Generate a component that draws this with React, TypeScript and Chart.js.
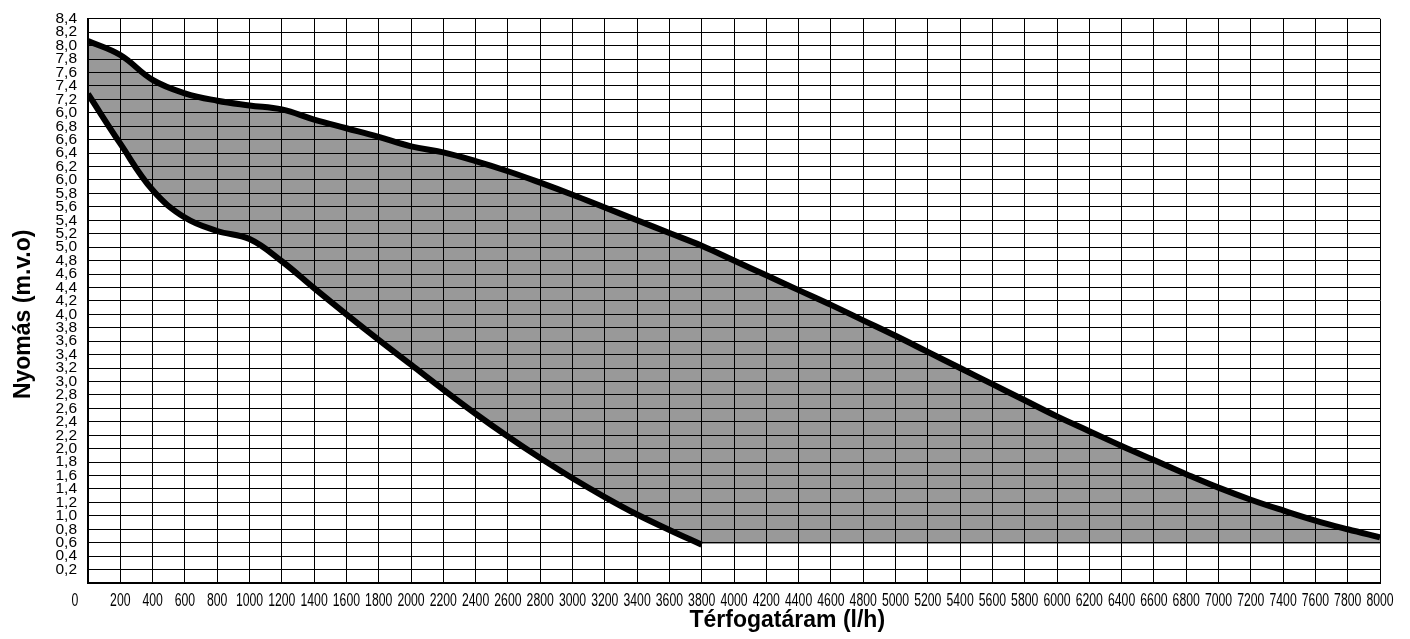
import React, { useEffect, useRef } from 'react';
import { Chart, registerables } from 'chart.js';

Chart.register(...registerables);

// Flow (l/h) sample points for the upper curve
const upperFlow = [
  0, 200, 400, 600, 800, 1000, 1200, 1400, 1600, 1800, 2000, 2200, 2400, 2600, 2800, 3000,
  3200, 3400, 3600, 3800, 4000, 4200, 4400, 4600, 4800, 5000, 5200, 5400, 5600, 5800, 6000,
  6200, 6400, 6600, 6800, 7000, 7200, 7400, 7600, 7800, 8000,
];
// Pressure (m.v.o) of the upper curve
const upperPressure = [
  8.07, 7.86, 7.49, 7.29, 7.18, 7.11, 7.05, 6.9, 6.77, 6.64, 6.5, 6.41, 6.28, 6.13, 5.96, 5.78,
  5.59, 5.4, 5.21, 5.02, 4.8, 4.58, 4.36, 4.14, 3.91, 3.68, 3.44, 3.2, 2.96, 2.72, 2.48,
  2.26, 2.04, 1.83, 1.62, 1.42, 1.24, 1.08, 0.93, 0.8, 0.68,
];

// Flow (l/h) sample points for the lower curve
const lowerFlow = [
  0, 200, 400, 600, 800, 1000, 1200, 1400, 1600, 1800, 2000, 2200, 2400, 2600, 2800, 3000,
  3200, 3400, 3600, 3800,
];
// Pressure (m.v.o) of the lower curve
const lowerPressure = [
  7.28, 6.54, 5.85, 5.44, 5.24, 5.12, 4.79, 4.39, 4.0, 3.62, 3.25, 2.88, 2.52, 2.18, 1.86, 1.56,
  1.28, 1.02, 0.79, 0.57,
];

// Bottom of the shaded operating region beyond the lower curve
const fillFloor = 0.58;

const xTickValues = [
  0, 200, 400, 600, 800, 1000, 1200, 1400, 1600, 1800, 2000, 2200, 2400, 2600, 2800, 3000,
  3200, 3400, 3600, 3800, 4000, 4200, 4400, 4600, 4800, 5000, 5200, 5400, 5600, 5800, 6000,
  6200, 6400, 6600, 6800, 7000, 7200, 7400, 7600, 7800, 8000,
];
const xTickLabels = [
  '0', '200', '400', '600', '800', '1000', '1200', '1400', '1600', '1800', '2000', '2200',
  '2400', '2600', '2800', '3000', '3200', '3400', '3600', '3800', '4000', '4200', '4400',
  '4600', '4800', '5000', '5200', '5400', '5600', '5800', '6000', '6200', '6400', '6600',
  '6800', '7000', '7200', '7400', '7600', '7800', '8000',
];

const yTickValues = [
  0, 0.2, 0.4, 0.6, 0.8, 1.0, 1.2, 1.4, 1.6, 1.8, 2.0, 2.2, 2.4, 2.6, 2.8, 3.0, 3.2, 3.4, 3.6,
  3.8, 4.0, 4.2, 4.4, 4.6, 4.8, 5.0, 5.2, 5.4, 5.6, 5.8, 6.0, 6.2, 6.4, 6.6, 6.8, 7.0, 7.2, 7.4,
  7.6, 7.8, 8.0, 8.2, 8.4,
];
const yTickLabels = [
  '', '0,2', '0,4', '0,6', '0,8', '1,0', '1,2', '1,4', '1,6', '1,8', '2,0', '2,2', '2,4', '2,6',
  '2,8', '3,0', '3,2', '3,4', '3,6', '3,8', '4,0', '4,2', '4,4', '4,6', '4,8', '5,0', '5,2',
  '5,4', '5,6', '5,8', '6,0', '6,2', '6,4', '6,6', '6,8', '6,0', '7,2', '7,4', '7,6', '7,8',
  '8,0', '8,2', '8,4',
];

const xTitle = 'Térfogatáram (l/h)';
const yTitle = 'Nyomás (m.v.o)';

const FONT = '"Liberation Sans", Arial, Helvetica, sans-serif';

const textPlugin = {
  id: 'customText',
  afterDraw(chart: any) {
    const { ctx, chartArea, scales } = chart;
    const xs = scales.x;
    const ys = scales.y;
    ctx.save();
    ctx.fillStyle = '#000';
    ctx.font = `18px ${FONT}`;
    ctx.textAlign = 'center';
    ctx.textBaseline = 'alphabetic';
    xTickValues.forEach((v, i) => {
      const px = xs.getPixelForValue(v) + (v === 0 ? -13 : 0);
      ctx.save();
      ctx.translate(px, chartArea.bottom + 23);
      ctx.scale(0.68, 1);
      ctx.fillText(xTickLabels[i], 0, 0);
      ctx.restore();
    });
    ctx.font = `bold 23px ${FONT}`;
    ctx.fillText(xTitle, xs.getPixelForValue(4330), chartArea.bottom + 44);
    ctx.save();
    ctx.translate(chartArea.left - 58.5, ys.getPixelForValue(4.0));
    ctx.rotate(-Math.PI / 2);
    ctx.fillText(yTitle, 0, 0);
    ctx.restore();
    ctx.restore();
  },
};

export default function App() {
  const canvasRef = useRef<HTMLCanvasElement | null>(null);

  useEffect(() => {
    const canvas = canvasRef.current;
    if (!canvas) return;
    const chart = new Chart(canvas, {
      type: 'line',
      data: {
        datasets: [
          {
            label: 'lower',
            data: lowerFlow.map((x, i) => ({ x, y: lowerPressure[i] })),
            borderColor: '#000',
            borderWidth: 6,
            borderCapStyle: 'butt',
            borderJoinStyle: 'round',
            pointRadius: 0,
            tension: 0.4,
            fill: 'start',
            backgroundColor: '#ffffff',
          },
          {
            label: 'upper',
            data: upperFlow.map((x, i) => ({ x, y: upperPressure[i] })),
            borderColor: '#000',
            borderWidth: 6,
            borderCapStyle: 'butt',
            borderJoinStyle: 'round',
            pointRadius: 0,
            tension: 0.4,
            fill: { value: fillFloor },
            backgroundColor: '#999999',
          },
        ],
      },
      options: {
        animation: false,
        responsive: false,
        events: [],
        layout: { padding: { left: 0, top: 14.5, right: 30, bottom: 0 } },
        plugins: {
          legend: { display: false },
          tooltip: { enabled: false },
          title: { display: false },
          filler: { drawTime: 'beforeDatasetsDraw' },
        },
        scales: {
          x: {
            type: 'linear',
            min: 0,
            max: 8000,
            afterBuildTicks: (scale: any) => {
              scale.ticks = xTickValues.map((value) => ({ value }));
            },
            afterFit: (scale: any) => {
              scale.height = 56;
            },
            ticks: { display: false },
            grid: { color: '#000', lineWidth: 1, drawTicks: false, z: 1 },
            border: { display: true, color: '#000', width: 2, z: 1 },
          },
          y: {
            type: 'linear',
            min: 0,
            max: 8.4,
            afterBuildTicks: (scale: any) => {
              scale.ticks = yTickValues.map((value) => ({ value }));
            },
            afterFit: (scale: any) => {
              scale.width = 88;
            },
            ticks: {
              autoSkip: false,
              padding: 11,
              color: '#000',
              font: { family: FONT, size: 15.5, lineHeight: 1 },
              callback: (_v: any, index: number) => yTickLabels[index],
            },
            grid: { color: '#000', lineWidth: 1, drawTicks: false, z: 1 },
            border: { display: true, color: '#000', width: 2, z: 1 },
          },
        },
      },
      plugins: [textPlugin],
    } as any);
    return () => chart.destroy();
  }, []);

  return (
    <div style={{ position: 'fixed', left: 0, top: 0, width: 1410, height: 639, background: '#fff' }}>
      <canvas ref={canvasRef} width={1410} height={639} />
    </div>
  );
}
